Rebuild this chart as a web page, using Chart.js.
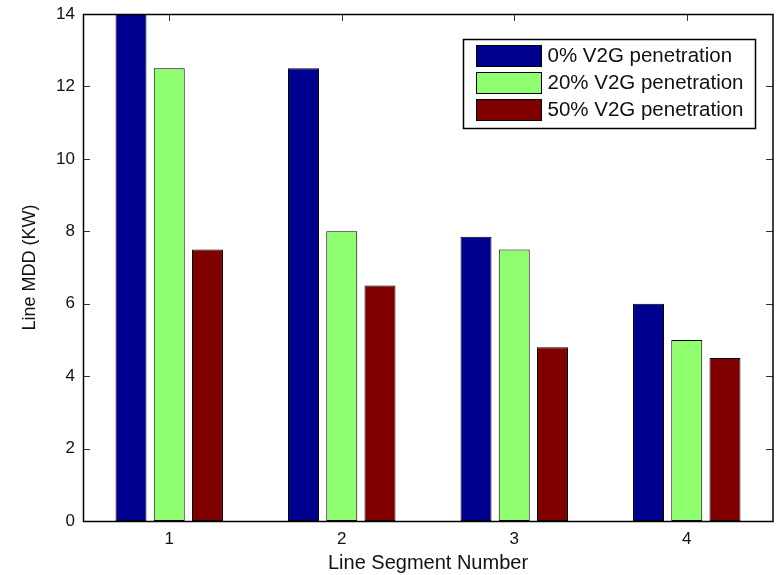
<!DOCTYPE html>
<html>
<head>
<meta charset="utf-8">
<script src="https://cdn.jsdelivr.net/npm/chart.js@4/dist/chart.umd.min.js"></script>
<style>
  html, body { margin: 0; padding: 0; background: #fff; }
  #wrap { width: 778px; height: 575px; }
</style>
</head>
<body>
<div id="wrap"><canvas id="c" width="778" height="575"></canvas></div>
<script>
// Line segments on the x axis
const categories = ['1', '2', '3', '4'];

// Maximum demand per line segment (kW) for each V2G penetration level
const mdd0 = [14, 12.5, 7.85, 6];
const mdd20 = [12.5, 8, 7.5, 5];
const mdd50 = [7.5, 6.5, 4.8, 4.5];

const seriesLabels = ['0% V2G penetration', '20% V2G penetration', '50% V2G penetration'];
const seriesColors = ['#00008F', '#8FFF70', '#800000'];

const yMin = 0, yMax = 14, yStep = 2;

const FONT = 'Liberation Sans, Arial, Helvetica, sans-serif';

// Axis box with inward tick marks on all four sides
const boxFrame = {
  id: 'boxFrame',
  beforeDatasetsDraw(chart) {
    const { ctx, chartArea: a, scales: { x, y } } = chart;
    ctx.save();
    ctx.strokeStyle = '#333';
    ctx.lineWidth = 1;
    const tl = 7;
    ctx.beginPath();
    y.ticks.forEach(t => {
      const py = Math.round(y.getPixelForValue(t.value)) + 0.5;
      ctx.moveTo(a.left, py); ctx.lineTo(a.left + tl, py);
      ctx.moveTo(a.right, py); ctx.lineTo(a.right - tl, py);
    });
    x.ticks.forEach((t, i) => {
      const px = Math.round(x.getPixelForTick(i)) + 0.5;
      ctx.moveTo(px, a.top); ctx.lineTo(px, a.top + tl);
      ctx.moveTo(px, a.bottom); ctx.lineTo(px, a.bottom - tl);
    });
    ctx.stroke();
    ctx.restore();
  },
  afterDatasetsDraw(chart) {
    const { ctx, chartArea: a } = chart;
    ctx.save();
    ctx.strokeStyle = '#000';
    ctx.lineWidth = 1.5;
    ctx.strokeRect(Math.round(a.left) + 0.5, Math.round(a.top) + 0.5,
                   Math.round(a.right - a.left) - 0.5, Math.round(a.bottom - a.top));
    ctx.restore();
  }
};

// Boxed legend in the upper right of the plot area
const insetLegend = {
  id: 'insetLegend',
  afterDraw(chart) {
    const { ctx, chartArea: a } = chart;
    const ds = chart.data.datasets;
    const w = 292, rowH = 27, padTop = 6, padBottom = 4;
    const h = padTop + rowH * ds.length + padBottom - 2;
    const x0 = Math.round(a.right - 18 - w) + 0.5;
    const y0 = Math.round(a.top + 25) + 0.5;
    ctx.save();
    ctx.fillStyle = '#fff';
    ctx.fillRect(x0, y0, w, h);
    ctx.strokeStyle = '#000';
    ctx.lineWidth = 1.5;
    ctx.strokeRect(x0, y0, w, h);
    ctx.font = '20.5px ' + FONT;
    ctx.textBaseline = 'middle';
    ds.forEach((d, i) => {
      const ry = y0 + padTop + i * rowH;
      ctx.fillStyle = d.backgroundColor;
      ctx.fillRect(x0 + 13, ry, 65, 21);
      ctx.strokeStyle = '#000';
      ctx.lineWidth = 1;
      ctx.strokeRect(x0 + 13, ry, 65, 21);
      ctx.fillStyle = '#111';
      ctx.fillText(d.label, x0 + 84, ry + 11);
    });
    ctx.restore();
  }
};

const seriesData = [mdd0, mdd20, mdd50];

new Chart(document.getElementById('c'), {
  type: 'bar',
  data: {
    labels: categories,
    datasets: seriesData.map((vals, i) => ({
      label: seriesLabels[i],
      data: vals,
      backgroundColor: seriesColors[i],
      borderColor: '#000',
      borderWidth: 1,
      borderSkipped: false,
      categoryPercentage: 0.665,
      barPercentage: 0.81
    }))
  },
  options: {
    responsive: false,
    animation: false,
    events: [],
    layout: { padding: { top: 14, right: 5, left: 0, bottom: 0 } },
    plugins: { legend: { display: false }, tooltip: { enabled: false } },
    scales: {
      x: {
        offset: true,
        grid: { display: false, drawTicks: false },
        border: { display: false },
        ticks: { padding: 8, color: '#111', font: { family: FONT, size: 17 } },
        title: {
          display: true, text: 'Line Segment Number', color: '#111',
          font: { family: FONT, size: 20 }, padding: { top: 0, bottom: 0 }
        },
        afterFit(s) { s.height = 54; s.paddingLeft = 0; s.paddingRight = 0; }
      },
      y: {
        min: yMin, max: yMax,
        grid: { display: false, drawTicks: false },
        border: { display: false },
        ticks: { stepSize: yStep, padding: 8, color: '#111', font: { family: FONT, size: 17 } },
        title: {
          display: true, text: 'Line MDD (KW)', color: '#111',
          font: { family: FONT, size: 18 }, padding: { top: 19, bottom: 0 }
        },
        afterFit(s) { s.width = 83; s.paddingTop = 0; s.paddingBottom = 0; }
      }
    }
  },
  plugins: [boxFrame, insetLegend]
});
</script>
</body>
</html>
